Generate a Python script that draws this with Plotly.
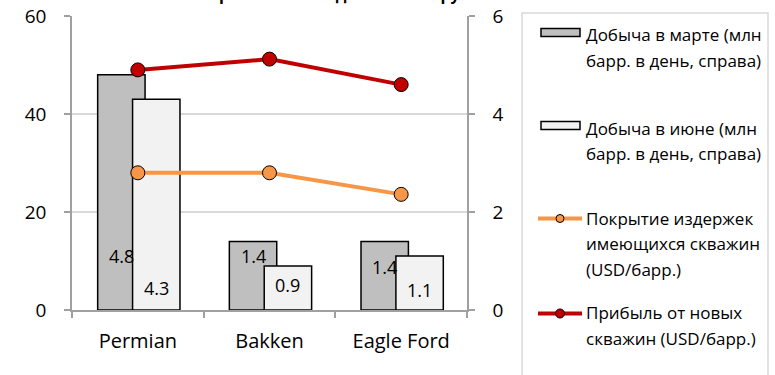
import plotly.graph_objects as go

# ---- data ----
categories = ["Permian", "Bakken", "Eagle Ford"]
output_march = [4.8, 1.4, 1.4]          # млн барр. в день (правая шкала)
output_june = [4.3, 0.9, 1.1]           # млн барр. в день (правая шкала)
breakeven_existing = [28.0, 28.0, 23.6]  # USD/барр. (левая шкала)
profit_new = [49.0, 51.2, 46.0]          # USD/барр. (левая шкала)

left_ticks = [0, 20, 40, 60]
right_ticks = [0, 2, 4, 6]

title_text = "Прибыльность добычи по крупнейшим бассейнам"
legend_lines = [
    ["Добыча в марте (млн", "барр. в день, справа)"],
    ["Добыча в июне (млн", "барр. в день, справа)"],
    ["Покрытие издержек", "имеющихся скважин", "(USD/барр.)"],
    ["Прибыль от новых", "скважин (USD/барр.)"],
]

# ---- styling ----
FONT = "Open Sans"
C_MARCH = "#BFBFBF"
C_JUNE = "#F2F2F2"
C_ORANGE = "#F79646"
C_RED = "#C00000"
AXIS_GRAY = "#A0A0A0"
GRID_GRAY = "#D9D9D9"

W, H = 775, 375
L, R, T, B = 72, 308, 16, 65
PW, PH = W - L - R, H - T - B

BAR_W = 0.36
OFF_MARCH = -0.305
OFF_JUNE = -0.04
# vertical placement of the value labels (right-axis units)
march_label_y = [1.10, 1.10, 0.88]
june_label_y = [0.45, 0.51, 0.41]

xs = list(range(len(categories)))


def px_x(px):
    return (px - L) / PW


def px_y(py):
    return (H - B - py) / PH


fig = go.Figure()

fig.add_trace(go.Bar(
    x=xs, y=output_march, name=" ".join(legend_lines[0]),
    width=BAR_W, offset=OFF_MARCH,
    marker=dict(color=C_MARCH, line=dict(color="#000000", width=1.5)),
    yaxis="y", showlegend=False, hoverinfo="y",
))
fig.add_trace(go.Bar(
    x=xs, y=output_june, name=" ".join(legend_lines[1]),
    width=BAR_W, offset=OFF_JUNE,
    marker=dict(color=C_JUNE, line=dict(color="#000000", width=1.5)),
    yaxis="y", showlegend=False, hoverinfo="y",
))
fig.add_trace(go.Scatter(
    x=xs, y=breakeven_existing, name=" ".join(legend_lines[2]),
    mode="lines+markers", line=dict(color=C_ORANGE, width=4),
    marker=dict(size=14, color=C_ORANGE, line=dict(color="#000000", width=1)),
    yaxis="y2", showlegend=False,
))
fig.add_trace(go.Scatter(
    x=xs, y=profit_new, name=" ".join(legend_lines[3]),
    mode="lines+markers", line=dict(color=C_RED, width=4),
    marker=dict(size=14, color=C_RED, line=dict(color="#000000", width=1)),
    yaxis="y2", showlegend=False,
))

annotations = []
# value labels on bars
for i, v in enumerate(output_march):
    annotations.append(dict(
        x=i + OFF_MARCH + BAR_W / 2, y=march_label_y[i], xref="x", yref="y",
        text=f"{v:.1f}", showarrow=False, xanchor="center", yanchor="middle",
        font=dict(family=FONT, size=18, color="#000000"),
    ))
for i, v in enumerate(output_june):
    annotations.append(dict(
        x=i + OFF_JUNE + BAR_W / 2, y=june_label_y[i], xref="x", yref="y",
        text=f"{v:.1f}", showarrow=False, xanchor="center", yanchor="middle",
        font=dict(family=FONT, size=18, color="#000000"),
    ))

# chart title (sits mostly above the top of the page)
annotations.append(dict(
    x=px_x(422), y=px_y(7), xref="paper", yref="paper",
    text=f"<b>{title_text}</b>", showarrow=False,
    xanchor="center", yanchor="bottom",
    font=dict(family=FONT, size=16, color="#000000"),
))

# ---- legend panel ----
shapes = [dict(
    type="rect", xref="paper", yref="paper",
    x0=px_x(522), x1=px_x(768), y0=px_y(420), y1=px_y(13),
    line=dict(color=GRID_GRAY, width=1.5), fillcolor="rgba(0,0,0,0)", layer="above",
)]

LINE_STEP = 25.5
item_top = [35, 128, 218, 313]
item_kind = ["bar", "bar", "line", "line"]
item_color = [C_MARCH, C_JUNE, C_ORANGE, C_RED]
item_dot = [0, 0, 8, 9]

for k in range(4):
    yc = item_top[k]
    if item_kind[k] == "bar":
        shapes.append(dict(
            type="rect", xref="paper", yref="paper",
            x0=px_x(541), x1=px_x(580), y0=px_y(yc + 1.5), y1=px_y(yc - 6.5),
            line=dict(color="#000000", width=1.5), fillcolor=item_color[k], layer="above",
        ))
    else:
        ly = yc + 0.5
        shapes.append(dict(
            type="line", xref="paper", yref="paper",
            x0=px_x(538), x1=px_x(582), y0=px_y(ly), y1=px_y(ly),
            line=dict(color=item_color[k], width=4), layer="above",
        ))
        r = item_dot[k] / 2
        shapes.append(dict(
            type="circle", xref="paper", yref="paper",
            x0=px_x(560 - r), x1=px_x(560 + r), y0=px_y(ly + r), y1=px_y(ly - r),
            line=dict(color="#000000", width=1), fillcolor=item_color[k], layer="above",
        ))
    for j, txt in enumerate(legend_lines[k]):
        annotations.append(dict(
            x=px_x(584), y=px_y(yc + j * LINE_STEP), xref="paper", yref="paper",
            text=txt, showarrow=False, xanchor="left", yanchor="middle",
            font=dict(family=FONT, size=17, color="#000000"),
        ))

fig.update_layout(
    width=W, height=H,
    margin=dict(l=L, r=R, t=T, b=B, pad=0, autoexpand=False),
    paper_bgcolor="#FFFFFF", plot_bgcolor="#FFFFFF",
    barmode="overlay", showlegend=False,
    font=dict(family=FONT, color="#000000"),
    xaxis=dict(
        range=[-0.5, len(categories) - 0.5], automargin=False,
        tickmode="array", tickvals=xs, ticktext=categories,
        ticks="", showgrid=False, zeroline=False,
        showline=True, linecolor=AXIS_GRAY, linewidth=1.5,
        tickfont=dict(family=FONT, size=20, color="#000000"),
        ticklabelstandoff=12,
        minor=dict(tick0=-0.5, dtick=1, ticks="outside", ticklen=6,
                   tickcolor=AXIS_GRAY, tickwidth=1.5, showgrid=False),
    ),
    yaxis=dict(
        range=[0, 6], side="right", tickmode="array", tickvals=right_ticks,
        automargin=False,
        showgrid=True, gridcolor=GRID_GRAY, gridwidth=1.5, zeroline=False,
        showline=True, linecolor=AXIS_GRAY, linewidth=1.5,
        ticks="outside", ticklen=6, tickcolor=AXIS_GRAY, tickwidth=1.5,
        tickfont=dict(family=FONT, size=19, color="#000000"),
        ticklabelstandoff=14,
    ),
    yaxis2=dict(
        range=[0, 60], side="left", overlaying="y", tickmode="array", tickvals=left_ticks,
        automargin=False,
        showgrid=False, zeroline=False,
        showline=True, linecolor=AXIS_GRAY, linewidth=1.5,
        ticks="outside", ticklen=6, tickcolor=AXIS_GRAY, tickwidth=1.5,
        tickfont=dict(family=FONT, size=19, color="#000000"),
        ticklabelstandoff=14,
    ),
    annotations=annotations,
    shapes=shapes,
)

fig.write_html("out.html")
